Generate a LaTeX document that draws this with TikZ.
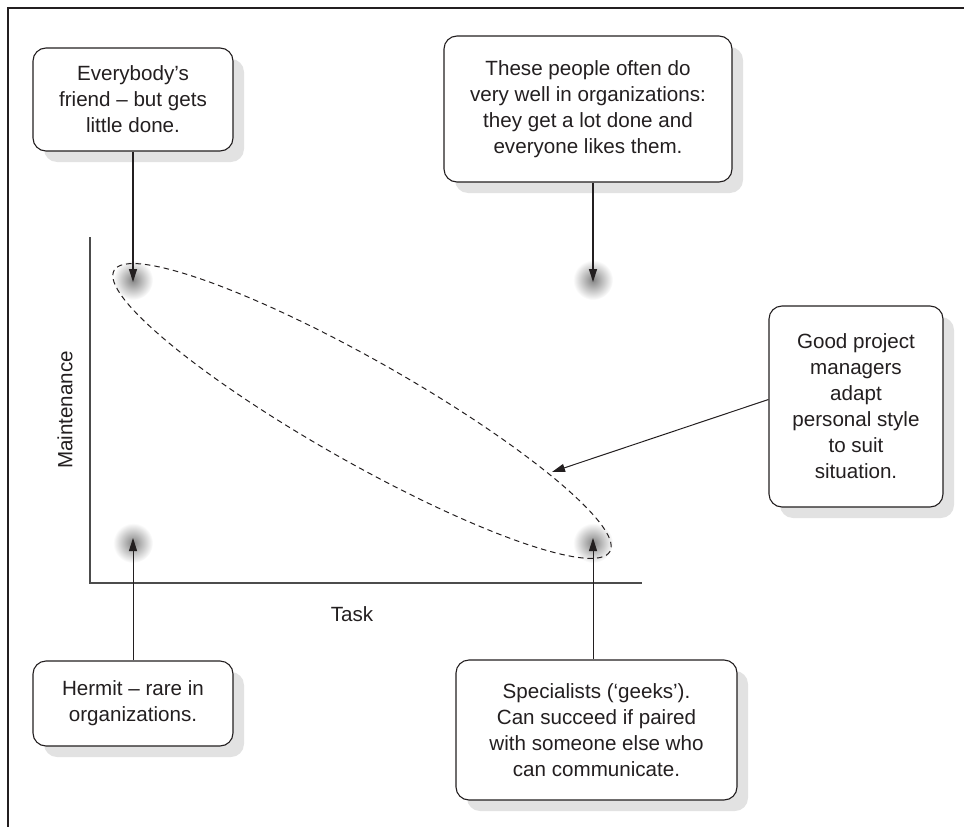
\documentclass[tikz,border=0pt]{standalone}
\usepackage{fontspec}
\setmainfont{Liberation Sans}
\usepackage{tikz}
\usetikzlibrary{arrows.meta}
\usetikzlibrary{positioning}
\usetikzlibrary{shadows}
\definecolor{inkgrey}{HTML}{231F20}
\definecolor{shadowgrey}{HTML}{E2E2E2}
\tikzset{note/.style = {draw=inkgrey, line width=1.1pt, fill=white, rounded corners=13pt, align=center,
        font=\fontsize{20.6}{26}\selectfont, text=inkgrey, inner sep=0pt,
        drop shadow={shadow xshift=11pt, shadow yshift=-11pt, fill=shadowgrey, opacity=1}}}
\tikzset{pointer/.style = {draw=inkgrey, line width=1.4pt, -{Stealth[length=13pt, width=8pt, inset=0pt]}}}
\tikzset{glow/.style = {inner color=black!48, outer color=white}}

\begin{document}
\begin{tikzpicture}[x=1pt, y=-1pt]
        \useasboundingbox (0,0) rectangle (964,827);
        % frame
        \draw [line width=1.5pt, inkgrey] (8,827) -- (8,8) -- (964,8);
        % the four corners of the grid
        \coordinate (tl) at (133,280);
        \coordinate (tr) at (593,280);
        \coordinate (bl) at (133,543);
        \coordinate (br) at (593,543);
        \foreach \c in {tl,tr,bl,br} \shade [glow] (\c) circle (20);
        % axes
        \coordinate (origin) at (90,583);
        \draw [line width=1.4pt, black!70] (90,237) -- (origin) -- (642,583);
        \node (maint) [rotate=90, font=\fontsize{20.6}{26}\selectfont, text=inkgrey] at (65,410) {Maintenance};
        \node (task) [font=\fontsize{20.6}{26}\selectfont, text=inkgrey] at (352,614) {Task};
        % the range of styles
        \coordinate (mid) at (362,411);
        \draw [dash pattern=on 5.5pt off 4pt, line width=1pt, inkgrey, rotate around={-29.55:(mid)}] (mid) ellipse [x radius=285, y radius=51];
        \coordinate (edge) at (552,472);
        % notes
        \node (friend) [note, minimum width=200pt, minimum height=103pt] at (133,99.5) {Everybody's\\friend -- but gets\\little done.};
        \node (stars) [note, minimum width=288pt, minimum height=146pt] at (588,109) {These people often do\\very well in organizations:\\they get a lot done and\\everyone likes them.};
        \node (good) [note, minimum width=174pt, minimum height=201pt] at (856,406.5) {Good project\\managers\\adapt\\personal style\\to suit\\situation.};
        \node (hermit) [note, minimum width=200pt, minimum height=85pt] at (133,703.5) {Hermit -- rare in\\organizations.};
        \node (geeks) [note, minimum width=281pt, minimum height=140pt] at (596.5,730) {Specialists (`geeks').\\Can succeed if paired\\with someone else who\\can communicate.};
        % pointers
        \draw [pointer] (friend.south) -- ([yshift=-2pt]tl);
        \draw [pointer] (stars.south -| tr) -- ([yshift=-2pt]tr);
        \draw [pointer, line width=1pt] (hermit.north) -- ([yshift=5pt]bl);
        \draw [pointer, line width=1pt] (geeks.north -| br) -- ([yshift=5pt]br);
        \draw [pointer, line width=1pt] ([yshift=7pt]good.west) -- (edge);
    \end{tikzpicture}
\end{document}
